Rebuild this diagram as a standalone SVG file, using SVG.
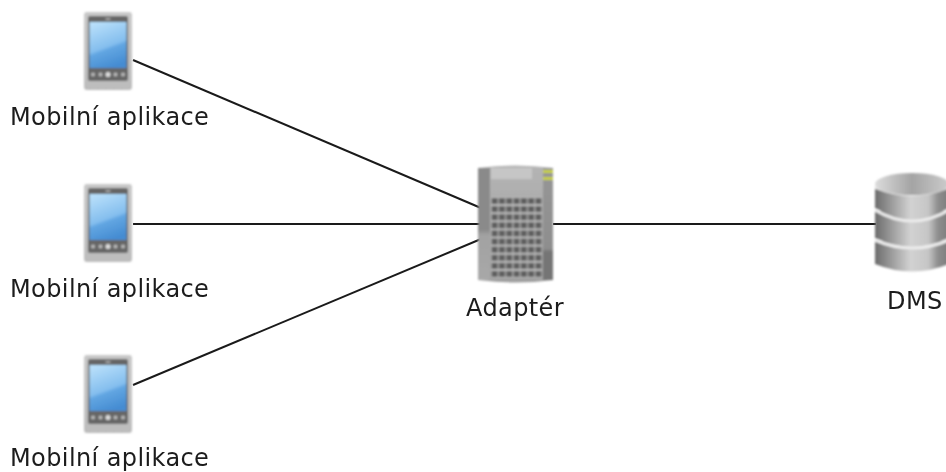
<svg xmlns="http://www.w3.org/2000/svg" width="946" height="472" viewBox="0 0 946 472">
<style>
text{font-family:"DejaVu Sans",sans-serif;font-size:24px;letter-spacing:0.4px;fill:#1c1c1c;filter:url(#t)}
.c{stroke:#1a1a1a;stroke-width:2;fill:none}
.rim{stroke:#ececec;stroke-width:3;fill:none}
</style>
<defs>
<filter id="t" x="-5%" y="-20%" width="110%" height="140%"><feGaussianBlur stdDeviation="0.5"/></filter>
<filter id="b" x="-10%" y="-10%" width="120%" height="120%"><feGaussianBlur stdDeviation="0.9"/></filter>
<linearGradient id="scr" x1="0.25" y1="0" x2="0.55" y2="1"><stop offset="0" stop-color="#b8dffa"/><stop offset="0.55" stop-color="#84beee"/><stop offset="0.62" stop-color="#62a6e2"/><stop offset="1" stop-color="#458cd2"/></linearGradient>
<linearGradient id="body" x1="0" y1="0" x2="0" y2="1"><stop offset="0" stop-color="#c8c8c8"/><stop offset="1" stop-color="#bcbcbc"/></linearGradient>
<linearGradient id="srv" x1="0" y1="0" x2="0" y2="1"><stop offset="0" stop-color="#b4b4b4"/><stop offset="1" stop-color="#9e9e9e"/></linearGradient>
<linearGradient id="lb" x1="0" y1="0" x2="0" y2="1"><stop offset="0" stop-color="#8a8a8a"/><stop offset="0.55" stop-color="#8a8a8a"/><stop offset="0.6" stop-color="#a2a2a2"/><stop offset="1" stop-color="#a8a8a8"/></linearGradient>
<linearGradient id="rb" x1="0" y1="0" x2="0" y2="1"><stop offset="0" stop-color="#969696"/><stop offset="0.72" stop-color="#8e8e8e"/><stop offset="0.75" stop-color="#747474"/><stop offset="1" stop-color="#747474"/></linearGradient>
<linearGradient id="cyl" gradientUnits="userSpaceOnUse" x1="875" y1="0" x2="949" y2="0"><stop offset="0" stop-color="#6c6c6c"/><stop offset="0.15" stop-color="#8c8c8c"/><stop offset="0.48" stop-color="#d2d2d2"/><stop offset="0.72" stop-color="#c6c6c6"/><stop offset="0.85" stop-color="#8e8e8e"/><stop offset="1" stop-color="#7c7c7c"/></linearGradient>
<linearGradient id="top" x1="0" y1="0" x2="1" y2="0"><stop offset="0" stop-color="#dcdcdc"/><stop offset="0.5" stop-color="#a4a4a4"/><stop offset="1" stop-color="#cccccc"/></linearGradient>
<pattern id="grid" x="491" y="197" width="7.3" height="8.100" patternUnits="userSpaceOnUse"><rect width="7.3" height="8.100" fill="#bcbcbc"/><rect x="0.6" y="1" width="6.100" height="6.100" fill="#5e5e5e"/></pattern>
<g id="phone" filter="url(#b)">
<rect x="0" y="0" width="48" height="78" rx="3" fill="url(#body)"/>
<rect x="4" y="4" width="40" height="65" rx="2" fill="#666"/>
<rect x="5.500" y="10" width="37" height="46" fill="url(#scr)"/>
<ellipse cx="24" cy="7" rx="3" ry="1" fill="#aaa"/>
<g fill="#b8b8b8"><circle cx="9" cy="62.500" r="2"/><circle cx="16.500" cy="62.500" r="2"/><circle cx="24" cy="62.500" r="2.500" fill="#ddd"/><circle cx="31.500" cy="62.500" r="2"/><circle cx="39" cy="62.500" r="2"/></g>
</g>
</defs>
<g id="connectors">
<line class="c" x1="133" y1="60" x2="481" y2="208"/>
<line class="c" x1="133" y1="224" x2="481" y2="224"/>
<line class="c" x1="133" y1="385" x2="481" y2="239"/>
<line class="c" x1="553" y1="224" x2="876" y2="224"/>
</g>
<g id="app1"><use href="#phone" x="84" y="12"/><text x="10" y="125">Mobilní aplikace</text></g>
<g id="app2"><use href="#phone" x="84" y="184"/><text x="10" y="297">Mobilní aplikace</text></g>
<g id="app3"><use href="#phone" x="84" y="355"/><text x="10" y="465.500">Mobilní aplikace</text></g>
<g id="adapter">
<g filter="url(#b)">
<path d="M478 168Q516 163 553 168V280Q516 285 478 280Z" fill="url(#srv)"/>
<rect x="478" y="168" width="12" height="112" fill="url(#lb)"/>
<rect x="543" y="168" width="10" height="112" fill="url(#rb)"/>
<rect x="491" y="168" width="41" height="11" fill="#c6c6c6"/>
<rect x="491" y="197" width="51" height="81" fill="url(#grid)"/>
<rect x="543" y="170" width="10" height="3" fill="#c8d040"/>
<rect x="543" y="177" width="10" height="3" fill="#c8d040"/>
</g>
<text x="466" y="316">Adaptér</text>
</g>
<g id="dms">
<g filter="url(#b)">
<path d="M875 241V264Q912 279 949 264V241Z" fill="url(#cyl)"/>
<path class="rim" d="M875 240Q912 256 949 240"/>
<path d="M875 211V238Q912 254 949 238V211Z" fill="url(#cyl)"/>
<path class="rim" d="M875 210Q912 232 949 210"/>
<path d="M875 186V208Q912 228 949 208V186Z" fill="url(#cyl)"/>
<path class="rim" d="M875 187Q912 202 949 187"/>
<ellipse cx="912" cy="184" rx="37" ry="11" fill="url(#top)"/>
</g>
<text x="887" y="309">DMS</text>
</g>
</svg>
